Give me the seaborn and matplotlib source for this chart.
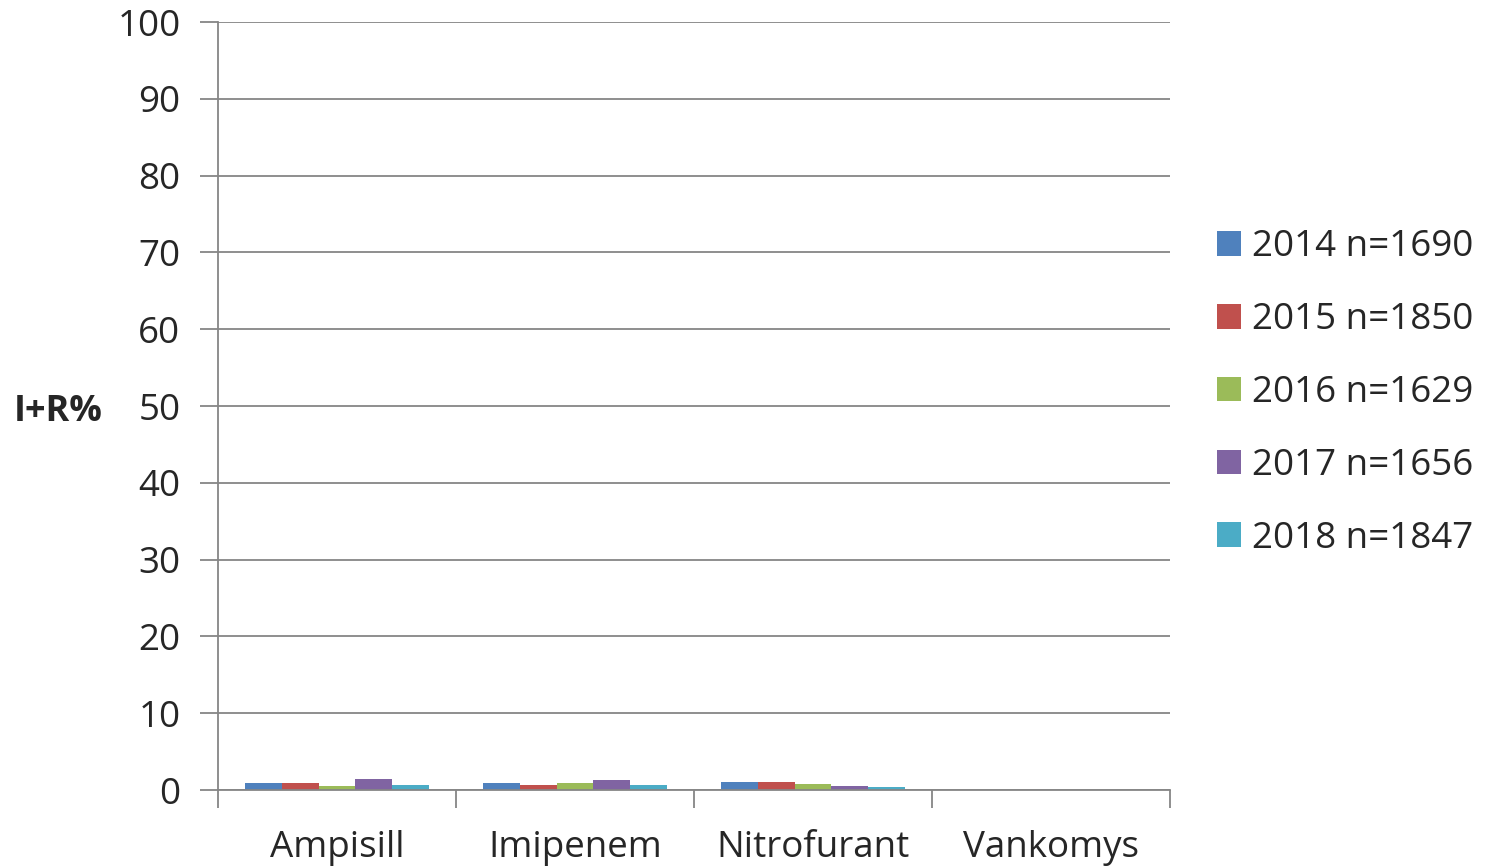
import pandas as pd
import seaborn as sns
import matplotlib.pyplot as plt
from matplotlib.ticker import FixedLocator

antibiotics = ["Ampisill", "Imipenem", "Nitrofurant", "Vankomys"]
years = ["2014 n=1690", "2015 n=1850", "2016 n=1629", "2017 n=1656", "2018 n=1847"]
pct_2014 = [0.87, 0.95, 1.05, 0.0]
pct_2015 = [0.87, 0.6, 1.05, 0.0]
pct_2016 = [0.5, 0.95, 0.75, 0.0]
pct_2017 = [1.4, 1.3, 0.55, 0.0]
pct_2018 = [0.6, 0.6, 0.45, 0.0]
colors = ["#4F81BD", "#C0504D", "#9BBB59", "#8064A2", "#4BACC6"]

rows = []
for year, vals in zip(years, [pct_2014, pct_2015, pct_2016, pct_2017, pct_2018]):
    for ab, v in zip(antibiotics, vals):
        rows.append({"antibiotic": ab, "year": year, "pct": v})
df = pd.DataFrame(rows)

sns.set_style("white")
plt.rcParams["font.family"] = ["Open Sans", "DejaVu Sans"]

fig = plt.figure(figsize=(14.88, 8.66), dpi=100)
ax = fig.add_axes([218 / 1488, 1 - 790 / 866, 952 / 1488, 768 / 866])

sns.barplot(data=df, x="antibiotic", y="pct", hue="year", order=antibiotics,
            hue_order=years, palette=colors, width=0.77, saturation=1,
            errorbar=None, ax=ax, edgecolor="none")

ax.set_ylim(0, 100)
ax.set_xlim(-0.5, 3.5)
ax.set_yticks(range(0, 101, 10))
ax.tick_params(axis="y", labelsize=26.5, length=13, width=1.3, color="#868686",
               pad=14, left=True)
ax.yaxis.grid(True, color="#868686", linewidth=1.3)
ax.set_axisbelow(True)

# category ticks at boundaries, labels centred
ax.xaxis.set_major_locator(FixedLocator([-0.5, 0.5, 1.5, 2.5, 3.5]))
ax.set_xticklabels([])
ax.xaxis.set_minor_locator(FixedLocator([0, 1, 2, 3]))
ax.set_xticklabels(antibiotics, minor=True)
ax.tick_params(axis="x", which="major", length=13, width=1.3, color="#868686",
               bottom=True)
ax.tick_params(axis="x", which="minor", length=0, labelsize=26.5, pad=29)
ax.set_xlabel("")

for side in ["top", "right"]:
    ax.spines[side].set_visible(False)
for side in ["left", "bottom"]:
    ax.spines[side].set_color("#868686")
    ax.spines[side].set_linewidth(1.3)

ax.set_ylabel("I+R%", fontsize=26, fontweight="bold", rotation=0,
              ha="center", va="center")
ax.yaxis.set_label_coords(-0.168, 0.492)

leg = ax.legend(loc="center left", bbox_to_anchor=((1217 - 218) / 952, 0.5 + 13 / 768),
                frameon=False, fontsize=26.5, handlelength=0.65,
                handleheight=0.65, handletextpad=0.3, labelspacing=1.0,
                borderaxespad=0, borderpad=0)

plt.savefig("out.png", dpi=100)
plt.close()
